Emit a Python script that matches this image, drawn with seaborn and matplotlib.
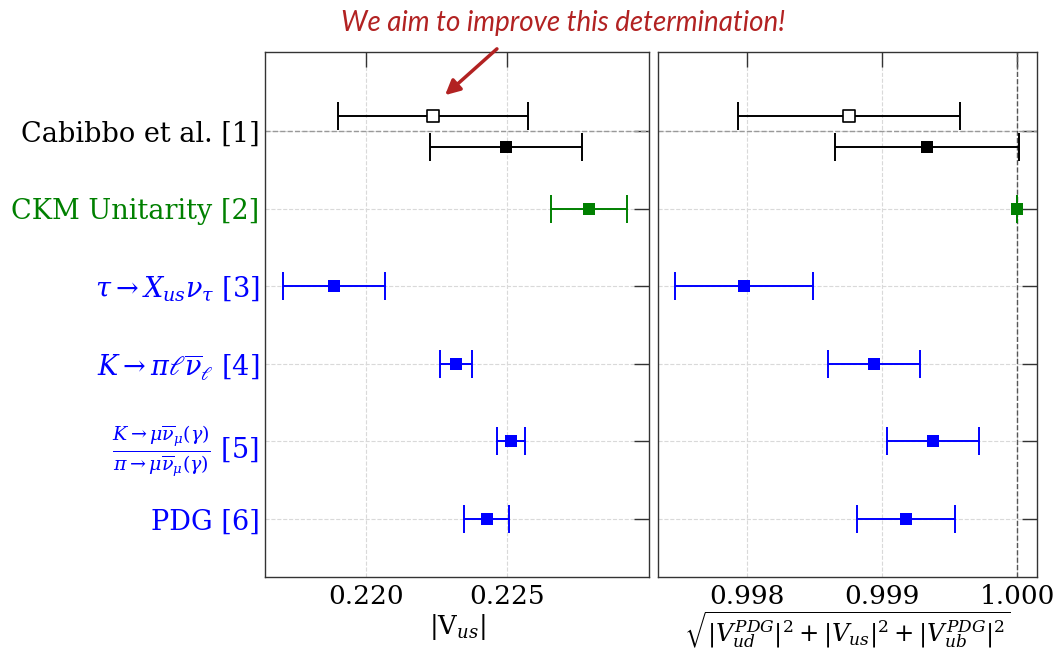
import numpy as np
import pandas as pd
import matplotlib
matplotlib.use("Agg")
import matplotlib.pyplot as plt
import seaborn as sns

# ---------------- data ----------------
row_labels = [
    "Cabibbo et al. [1]",
    "CKM Unitarity [2]",
    r"$\tau \to X_{us}\nu_\tau$ [3]",
    r"$K \to \pi\ell\overline{\nu}_\ell$ [4]",
    r"$\frac{K\to\mu\overline{\nu}_\mu(\gamma)}{\pi\to\mu\overline{\nu}_\mu(\gamma)}$ [5]",
    "PDG [6]",
]
row_colors = ["black", "green", "blue", "blue", "blue", "blue"]

# entries: row index, offset within row, colour, filled?
entry_row = [0, 0, 1, 2, 3, 4, 5]
entry_offset = [-0.2, 0.2, 0.0, 0.0, 0.0, 0.0, 0.0]
entry_color = ["black", "black", "green", "blue", "blue", "blue", "blue"]
entry_open = [True, False, False, False, False, False, False]

vus_val = [0.22238, 0.22496, 0.22791, 0.21887, 0.22319, 0.22514, 0.22429]
vus_err = [0.00338, 0.00270, 0.00136, 0.00180, 0.00057, 0.00050, 0.00080]

unit_val = [0.998755, 0.999333, 1.00000, 0.997978, 0.998941, 0.999380, 0.999178]
unit_err = [0.00082, 0.00068, 0.00000, 0.00051, 0.00034, 0.00034, 0.00036]

left_ticks = [0.220, 0.225]
right_ticks = [0.998, 0.999, 1.000]

df = pd.DataFrame({
    "y": np.array(entry_row) + np.array(entry_offset),
    "color": entry_color,
    "open": entry_open,
    "vus": vus_val,
    "vus_err": vus_err,
    "unit": unit_val,
    "unit_err": unit_err,
})

# ---------------- style ----------------
sns.set_style("white")
plt.rcParams["font.family"] = ["DejaVu Serif"]
plt.rcParams["mathtext.fontset"] = "dejavuserif"
plt.rcParams["text.color"] = "black"
plt.rcParams["axes.labelcolor"] = "black"
plt.rcParams["xtick.labelcolor"] = "black"
plt.rcParams["ytick.labelcolor"] = "black"

fig = plt.figure(figsize=(10.59, 6.51), dpi=100)
axL = fig.add_axes([0.2502, 0.1137, 0.3626, 0.8064])
axR = fig.add_axes([0.6213, 0.1137, 0.3579, 0.8064])

def draw(ax, xcol, ecol):
    for _, r in df.iterrows():
        ax.errorbar(r[xcol], r["y"], xerr=r[ecol], fmt="none",
                    ecolor=r["color"], elinewidth=1.4, capsize=10,
                    capthick=1.4, zorder=3)
    for is_open, sub in df.groupby("open"):
        if is_open:
            sns.scatterplot(data=sub, x=xcol, y="y", ax=ax, marker="s", s=75,
                            color="white", edgecolor=sub["color"].tolist(),
                            linewidth=1.2, zorder=4, legend=False)
        else:
            sns.scatterplot(data=sub, x=xcol, y="y", ax=ax, marker="s", s=75,
                            hue="color", palette={c: c for c in sub["color"].unique()},
                            edgecolor="none", zorder=4, legend=False)

draw(axL, "vus", "vus_err")
draw(axR, "unit", "unit_err")

for ax, ticks in [(axL, left_ticks), (axR, right_ticks)]:
    ax.set_ylim(5.75, -1.02)
    ax.set_yticks(range(len(row_labels)))
    ax.set_xticks(ticks)
    ax.grid(True, linestyle="--", color="#d9d9d9", linewidth=0.8, zorder=0)
    ax.axhline(0, color="#999999", linestyle="--", linewidth=1.0, zorder=1)
    ax.tick_params(direction="in", top=True, right=True, length=11,
                   width=1.0, color="#333333", labelsize=19, pad=5,
                   labelcolor="black")
    for s in ax.spines.values():
        s.set_color("#333333")
        s.set_linewidth(1.0)
    ax.set_ylabel("")

axL.tick_params(axis="y", pad=4)
axL.set_xlim(0.21642, 0.23004)
axR.set_xlim(0.99734, 1.000148)
axR.axvline(1.0, color="#555555", linestyle="--", linewidth=1.0, zorder=2)

axL.set_xticklabels(["0.220", "0.225"])
axR.set_xticklabels(["0.998", "0.999", "1.000"])
axL.set_yticklabels(row_labels, fontsize=19.5)
for lab, c in zip(axL.get_yticklabels(), row_colors):
    lab.set_color(c)
axR.set_yticklabels([])

axL.set_xlabel(r"|V$_{us}$|", fontsize=18.5, labelpad=2, color="black")
axR.set_xlabel(r"$\sqrt{|V_{ud}^{PDG}|^2+|V_{us}|^2+|V_{ub}^{PDG}|^2}$",
               fontsize=17.5, labelpad=0, color="black")

# annotation
fig.text(0.532, 0.965, "We aim to improve this determination!",
         color="#b22222", fontsize=20, style="italic",
         family=["Lato", "DejaVu Sans"], ha="center", va="center")
fig.add_artist(matplotlib.patches.FancyArrowPatch(
    (499 / 1059, 1 - 47 / 651), (443 / 1059, 1 - 97 / 651),
    transform=fig.transFigure, arrowstyle="-|>", mutation_scale=22,
    color="#b22222", linewidth=2.5))

fig.savefig("out.png", dpi=100)
